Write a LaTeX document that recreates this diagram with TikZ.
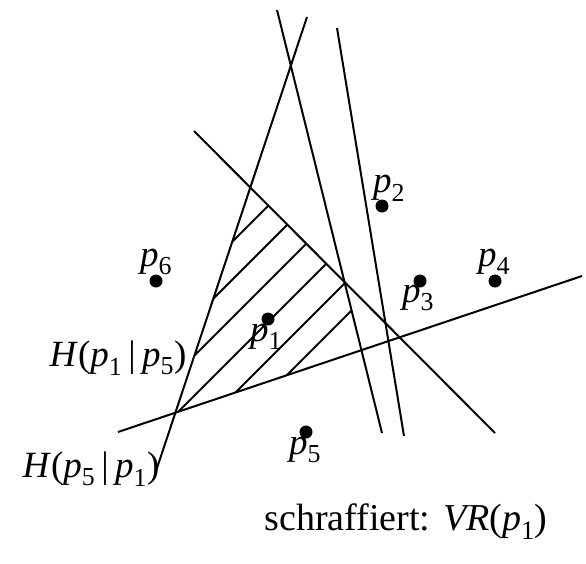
\documentclass[tikz,border=0pt]{standalone}
\usepackage{fontspec}
\setmainfont{Liberation Serif}
\usetikzlibrary{positioning}
\newcommand{\psub}[1]{\textit{p}\textsubscript{#1}}

\begin{document}
\begin{tikzpicture}[x=1pt,y=-1pt,line width=2pt,
    font=\fontsize{37}{44}\selectfont,
    site/.style={circle,fill,inner sep=0pt,minimum size=13pt},
    lbl/.style={inner sep=0pt}]
  \useasboundingbox (0,0) rectangle (586,563);
  % bisectors
  \coordinate (a1) at (307,17);  \coordinate (a2) at (155,474);
  \coordinate (b1) at (194,131); \coordinate (b2) at (495,433);
  \coordinate (c1) at (277,10);  \coordinate (c2) at (382,433);
  \coordinate (d1) at (337,28);  \coordinate (d2) at (404,436);
  \coordinate (e1) at (118,432); \coordinate (e2) at (582,276);
  \draw (a1) -- (a2);
  \draw (b1) -- (b2);
  \draw (c1) -- (c2);
  \draw (d1) -- (d2);
  \draw (e1) -- (e2);
  % hatching of VR(p1)
  \begin{scope}
    \clip (intersection of a1--a2 and b1--b2) -- (intersection of b1--b2 and c1--c2)
      -- (intersection of c1--c2 and e1--e2) -- (intersection of e1--e2 and a1--a2) -- cycle;
    \foreach \c in {474,512,550,590,628,662}
      \draw (\c,0) -- (0,\c);
  \end{scope}
  % sites
  \node[site] (p1) at (268,319) {};
  \node[site] (p2) at (382,206) {};
  \node[site] (p3) at (420,281) {};
  \node[site] (p4) at (495,281) {};
  \node[site] (p5) at (306,432) {};
  \node[site] (p6) at (156,281) {};
  \node[lbl] (t1) at (266,337) {\psub{1}};
  \node[lbl] (t2) at (389,188) {\psub{2}};
  \node[lbl] (t3) at (418,298) {\psub{3}};
  \node[lbl] (t4) at (494,262) {\psub{4}};
  \node[lbl] (t5) at (305,450) {\psub{5}};
  \node[lbl] (t6) at (156,262) {\psub{6}};
  \node[lbl] (h15) at (118,358) {\textit{H}(\psub{1}\,|\,\psub{5})};
  \node[lbl] (h51) at (91,469) {\textit{H}(\psub{5}\,|\,\psub{1})};
  \node[lbl,font=\fontsize{38}{45}\selectfont] (cap) at (406,522) {schraffiert: \textit{VR}(\psub{1})};
\end{tikzpicture}
\end{document}
